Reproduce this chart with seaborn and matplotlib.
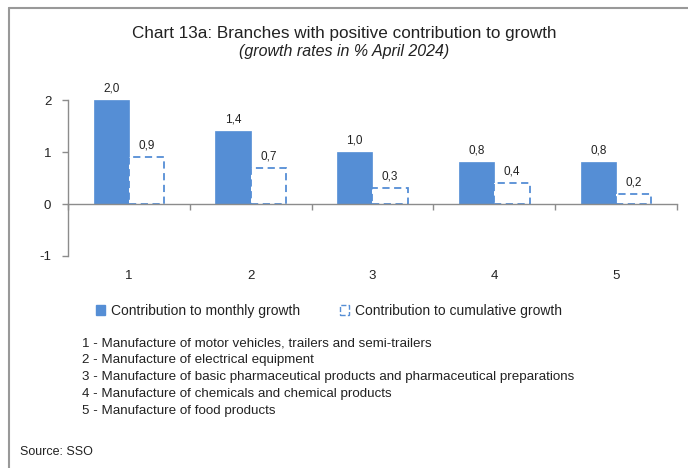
import pandas as pd
import numpy as np
import matplotlib
matplotlib.use("Agg")
import matplotlib.pyplot as plt
from matplotlib.patches import Patch
from matplotlib.lines import Line2D
import seaborn as sns

# data
branches = ["1", "2", "3", "4", "5"]
monthly = [2.0, 1.4, 1.0, 0.8, 0.8]
cumulative = [0.9, 0.7, 0.3, 0.4, 0.2]
series_names = ["Contribution to monthly growth", "Contribution to cumulative growth"]
notes = [
    "1 - Manufacture of motor vehicles, trailers and semi-trailers",
    "2 - Manufacture of electrical equipment",
    "3 - Manufacture of basic pharmaceutical products and pharmaceutical preparations",
    "4 - Manufacture of chemicals and chemical products",
    "5 - Manufacture of food products",
]

blue = "#558ED5"
txt = "#222222"

df = pd.DataFrame({
    "branch": branches * 2,
    "value": monthly + cumulative,
    "series": [series_names[0]] * len(branches) + [series_names[1]] * len(branches),
})

sns.set_style("white")
plt.rcParams["font.family"] = ["Liberation Sans", "DejaVu Sans"]

fig = plt.figure(figsize=(6.88, 4.68), dpi=100)
ax = fig.add_axes([0.0988, 0.453, 0.885, 0.333])

sns.barplot(data=df, x="branch", y="value", hue="series", order=branches,
            hue_order=series_names, palette=[blue, blue], width=0.58,
            legend=False, ax=ax, saturation=1)

# monthly bars: solid; cumulative bars: white with dashed outline
n = len(branches)
for i, bar in enumerate(ax.patches[:2 * n]):
    if i < n:
        bar.set_facecolor(blue)
        bar.set_edgecolor(blue)
        bar.set_linewidth(0.5)
    else:
        bar.set_facecolor("white")
        bar.set_edgecolor(blue)
        bar.set_linestyle((0, (4, 2.5)))
        bar.set_linewidth(1.3)

# value labels with decimal comma
for i, bar in enumerate(ax.patches[:2 * n]):
    v = bar.get_height()
    ax.annotate(f"{v:.1f}".replace(".", ","),
                (bar.get_x() + bar.get_width() / 2, v),
                xytext=(0, 4), textcoords="offset points",
                ha="center", va="bottom", fontsize=8.5, color=txt)

ax.set_ylim(-1, 2)
ax.set_xlim(-0.5, n - 0.5)
ax.set_yticks([-1, 0, 1, 2])
ax.set_yticklabels(["-1", "0", "1", "2"], fontsize=9.5, color=txt)
ax.set_xlabel("")
ax.set_ylabel("")

for s in ["top", "right"]:
    ax.spines[s].set_visible(False)
ax.spines["bottom"].set_position(("data", 0))
for s in ["left", "bottom"]:
    ax.spines[s].set_color("#8c8c8c")
    ax.spines[s].set_linewidth(1)

# category boundary ticks on the zero line, labels below the plot
ax.set_xticks(np.arange(n + 1) - 0.5)
ax.set_xticklabels([])
ax.tick_params(axis="x", bottom=True, length=4, width=1, color="#8c8c8c", direction="out")
ax.tick_params(axis="y", left=True, length=4, width=1, color="#8c8c8c", direction="out", pad=8)
trans = ax.get_xaxis_transform()
for i, b in enumerate(branches):
    ax.text(i, -0.09, b, transform=trans, ha="center", va="top", fontsize=9.5, color=txt)

# legend
handles = [Patch(facecolor=blue, edgecolor=blue),
           Patch(facecolor="white", edgecolor=blue, linestyle="--", linewidth=1)]
fig.legend(handles, series_names, loc="center left", bbox_to_anchor=(0.121, 0.335),
           ncol=2, frameon=False, fontsize=10, handlelength=0.7, handleheight=0.7,
           handletextpad=0.4, columnspacing=2.85, labelcolor=txt)

# titles
fig.text(0.5, 0.929, "Chart 13a: Branches with positive contribution to growth",
         ha="center", va="center", fontsize=12.3, color=txt)
fig.text(0.5, 0.889, "(growth rates in % April 2024)", ha="center", va="center",
         fontsize=11.5, style="italic", color=txt)

# branch notes
for k, line in enumerate(notes):
    fig.text(82 / 688, 1 - (343 + 17 * k) / 468, line, ha="left", va="center",
             fontsize=9.6, color=txt)

fig.text(20 / 688, 1 - 452 / 468, "Source: SSO", ha="left", va="center",
         fontsize=9, color=txt)

# frame on top and left
fig.add_artist(Line2D([9 / 688, 9 / 688], [0, 1 - 8 / 468], color="#999999", lw=1.5,
                      transform=fig.transFigure))
fig.add_artist(Line2D([9 / 688, 1], [1 - 8 / 468, 1 - 8 / 468], color="#999999", lw=1.5,
                      transform=fig.transFigure))

fig.savefig("out.png", dpi=100)
